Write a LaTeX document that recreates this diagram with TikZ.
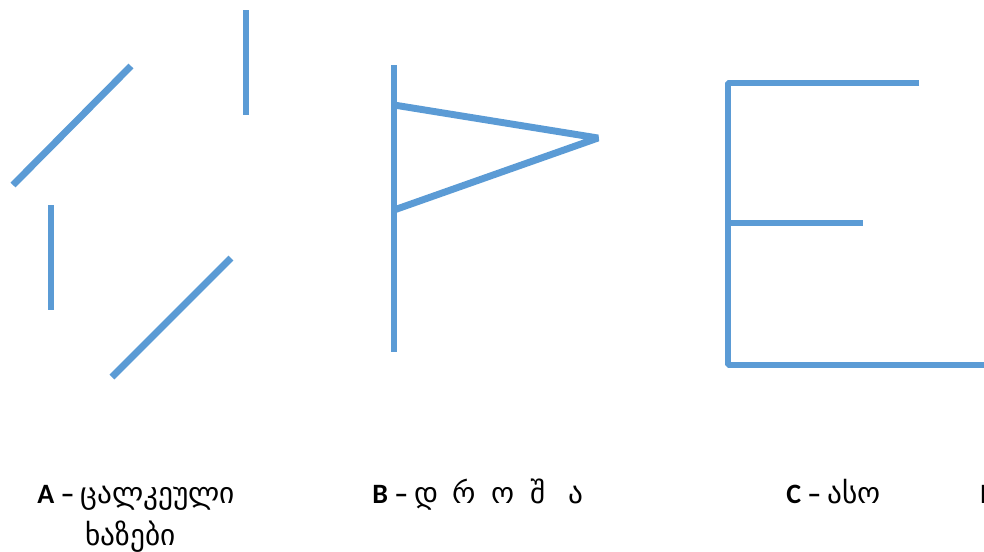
\documentclass[tikz,border=0pt]{standalone}
\usepackage{fontspec}
\setmainfont{Carlito}
\newfontfamily\geofont{DejaVu Sans}
\usepackage{xcolor}
\usetikzlibrary{positioning}
\definecolor{strokeblue}{HTML}{5B9BD5}
\newcommand{\spacedletter}[1]{\makebox[29pt][l]{#1}}

\begin{document}
\begin{tikzpicture}[
    x=0.75pt, y=-0.75pt,
    stroke/.style={draw=strokeblue, line width=5.2pt, line join=bevel},
    caption/.style={font=\fontsize{21}{25}\selectfont, inner sep=0pt, anchor=base west},
    geo/.style={font=\fontsize{22}{26}\selectfont\geofont, inner sep=0pt, anchor=base west}
]
    \useasboundingbox (0,0) rectangle (984,551);

    % A: separate lines
    \draw[stroke] (13,185) -- (131,66);
    \draw[stroke] (246,10) -- (246,115);
    \draw[stroke] (51,205) -- (51,310);
    \draw[stroke] (112,377) -- (231,258);

    % B: flag
    \draw[stroke] (394,65) -- (394,352);
    \draw[stroke] (394,105) -- (598,138) -- (394,210);

    % C: letter
    \draw[stroke] (919,83) -- (728,83) -- (728,365) -- (990,365);
    \draw[stroke] (728,223) -- (863,223);

    % Captions
    \node[caption] (capA) at (37,503) {\textbf{A –}};
    \node[geo, right=4pt of capA.base east, anchor=base west] (geoA) {ცალკეული};
    \node[geo] (geoAb) at (85,545) {ხაზები};
    \node[caption] (capB) at (372,503) {\textbf{B –}};
    \node[geo, right=4pt of capB.base east, anchor=base west] (geoB)
        {\spacedletter{დ}\spacedletter{რ}\spacedletter{ო}\spacedletter{შ}ა};
    \node[caption] (capC) at (786,503) {\textbf{C –}};
    \node[geo, right=4pt of capC.base east, anchor=base west] (geoC) {ასო};
    \node[caption] (capD) at (980,503) {\textbf{D}};
\end{tikzpicture}
\end{document}
